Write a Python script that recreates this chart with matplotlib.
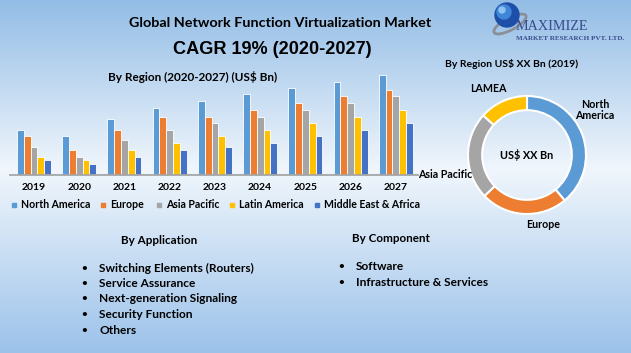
import numpy as np
import matplotlib
matplotlib.use('Agg')
import matplotlib.pyplot as plt
from matplotlib.patches import Circle, Ellipse, Rectangle

years = ['2019', '2020', '2021', '2022', '2023', '2024', '2025', '2026', '2027']
regions = ['North America', 'Europe', 'Asia Pacific', 'Latin America',
           'Middle East & Africa']
colors = ['#5b9bd5', '#ed7d31', '#a5a5a5', '#ffc000', '#4472c4']

north_america = [45, 39, 56, 67, 74, 81, 87, 93, 100]
europe = [39, 25, 45, 58, 58, 65, 72, 79, 85]
asia_pacific = [28, 18, 35, 45, 52, 58, 65, 72, 79]
latin_america = [18, 15, 25, 32, 39, 45, 52, 58, 65]
middle_east_africa = [15, 11, 18, 25, 28, 32, 39, 45, 52]

donut_labels = ['North\nAmerica', 'Europe', 'Asia Pacific', 'LAMEA']
donut_shares = [39.0, 23.8, 23.9, 13.3]
donut_colors = ['#5b9bd5', '#ed7d31', '#a5a5a5', '#ffc000']

applications = ['Switching Elements (Routers)', 'Service Assurance',
                'Next-generation Signaling', 'Security Function', 'Others']
components = ['Software', 'Infrastructure & Services']

W, H = 631, 353
FONT = 'Lato'


def px(x, y):
    return x / W, 1 - y / H


fig = plt.figure(figsize=(W / 100, H / 100), dpi=100)

# background gradient
bg = fig.add_axes([0, 0, 1, 1])
stops = np.array([0.0, 0.48, 1.0])
top = np.array([147, 189, 230]) / 255
mid = np.array([240, 246, 252]) / 255
bot = np.array([156, 194, 234]) / 255
t = np.linspace(0, 1, H)
grad = np.zeros((H, 1, 3))
for c in range(3):
    grad[:, 0, c] = np.interp(t, stops, [top[c], mid[c], bot[c]])
bg.imshow(grad, aspect='auto', extent=[0, 1, 0, 1], origin='upper')
bg.set_axis_off()

# titles
fig.text(*px(280, 23), 'Global Network Function Virtualization Market',
         ha='center', va='center', fontsize=10.4, fontweight='bold',
         family=FONT)
fig.text(*px(272, 49), 'CAGR 19% (2020-2027)', ha='center', va='center',
         fontsize=13.1, fontweight='bold', family='Liberation Sans')
fig.text(*px(193, 77), 'By Region (2020-2027) (US$ Bn)', ha='center',
         va='center', fontsize=8.5, fontweight='bold', family=FONT)

# bar chart
ax = fig.add_axes([10 / W, (H - 175) / H, 408 / W, 110 / H])
ax.patch.set_alpha(0)
series = [north_america, europe, asia_pacific, latin_america,
          middle_east_africa]
x = np.arange(len(years))
bw = 0.15
for k, (vals, col) in enumerate(zip(series, colors)):
    ax.bar(x + (k - 2) * bw, vals, bw, color=col, edgecolor='white',
           linewidth=0.6)
ax.set_xlim(-0.53, 8.49)
ax.set_ylim(0, 110)
for s in ['top', 'right', 'left']:
    ax.spines[s].set_visible(False)
ax.spines['bottom'].set_color('#a6a6a6')
ax.spines['bottom'].set_linewidth(1.3)
ax.set_yticks([])
ax.set_xticks(x)
ax.set_xticklabels(years, fontsize=7.5, fontweight='bold', family=FONT)
ax.tick_params(axis='x', length=0, pad=6)

# legend
leg_x = [12, 101, 157, 230, 315]
for lx, name, col in zip(leg_x, regions, colors):
    fig.patches.append(Rectangle(px(lx, 207), 4 / W, 4 / H, color=col,
                                 transform=fig.transFigure))
    fig.text(*px(lx + 9, 205), name, ha='left', va='center', fontsize=7.6,
             fontweight='bold', family=FONT)

# donut
r = 59
dax = fig.add_axes([(527 - 1.1 * r) / W, (H - 155 - 1.1 * r) / H,
                    2.2 * r / W, 2.2 * r / H])
dax.pie(donut_shares, colors=donut_colors, startangle=90, counterclock=False,
        radius=1, wedgeprops=dict(width=0.24, edgecolor='white',
                                  linewidth=1.5))
dax.set_xlim(-1.1, 1.1)
dax.set_ylim(-1.1, 1.1)
dax.set_aspect('equal')
dax.text(0, 0, 'US$ XX Bn', ha='center', va='center', fontsize=7.8,
         fontweight='bold', family=FONT)

fig.text(*px(512, 64), 'By Region US$ XX Bn (2019)', ha='center',
         va='center', fontsize=7.5, fontweight='bold', family=FONT)
label_pos = [(595, 110), (543, 224), (445, 175), (488, 88)]
for (lx, ly), lab in zip(label_pos, donut_labels):
    fig.text(*px(lx, ly), lab, ha='center', va='center', fontsize=7.7,
             fontweight='bold', family=FONT, linespacing=1.1)

# logo
lax = fig.add_axes([0, 0, 1, 1])
lax.set_xlim(0, W)
lax.set_ylim(H, 0)
lax.set_axis_off()
lax.add_patch(Ellipse((510, 24), 36, 12, angle=-28, fill=False,
                      edgecolor='#8a8f99', linewidth=2))
lax.add_patch(Circle((507, 15), 12, color='#1d4fa8'))
lax.add_patch(Circle((504, 12), 7, color='#3f86d8'))
lax.add_patch(Circle((502, 10), 3, color='#8cc4f0'))
lax.text(516, 27, 'MAXIMIZE', ha='left', va='center', fontsize=10.2,
         family='Liberation Serif', color='#3a4a8c')
lax.text(516, 38, 'MARKET RESEARCH PVT. LTD.', ha='left', va='center',
         fontsize=5.1, fontweight='bold', family='Liberation Serif',
         color='#3a4a8c')

# application / component lists
fig.text(*px(159, 240), 'By Application', ha='center', va='center',
         fontsize=8.4, fontweight='bold', family=FONT)
fig.text(*px(391, 239), 'By Component', ha='center', va='center',
         fontsize=8.4, fontweight='bold', family=FONT)
for i, item in enumerate(applications):
    y = 268 + i * 15.5
    fig.text(*px(84, y), '•', ha='center', va='center', fontsize=7,
             fontweight='bold', family=FONT)
    fig.text(*px(99, y), item, ha='left', va='center', fontsize=8.6,
             fontweight='bold', family=FONT)
for i, item in enumerate(components):
    y = 267 + i * 16
    fig.text(*px(341, y), '•', ha='center', va='center', fontsize=7,
             fontweight='bold', family=FONT)
    fig.text(*px(356, y), item, ha='left', va='center', fontsize=8.6,
             fontweight='bold', family=FONT)

fig.savefig('out.png', dpi=100)
